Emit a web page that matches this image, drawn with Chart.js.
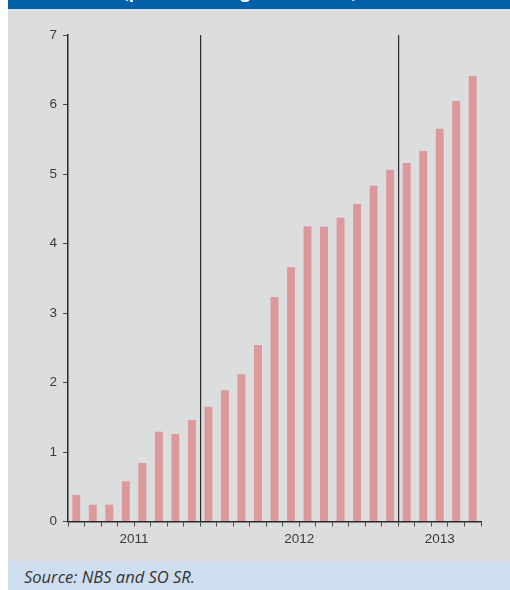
<!DOCTYPE html>
<html>
<head>
<meta charset="utf-8">
<script src="https://cdn.jsdelivr.net/npm/chart.js@4/dist/chart.umd.min.js"></script>
<style>
  html, body { margin: 0; padding: 0; background: #fff; width: 510px; height: 590px; overflow: hidden; }
  #head { position: absolute; left: 8px; top: 0; width: 502px; height: 9px; background: #0060a8; overflow: hidden; }
  #head span { position: absolute; left: 115px; top: -18px; color: #fff; font: bold 17px "Open Sans", sans-serif; line-height: 20px; white-space: nowrap; }
  #panel { position: absolute; left: 8px; top: 9px; width: 502px; height: 552px; background: #dcdddf; }
  #foot { position: absolute; left: 8px; top: 561px; width: 502px; height: 29px; background: #cfdeef; overflow: hidden; }
  #foot span { position: absolute; left: 16px; top: 6px; font: italic 16.5px "Open Sans", sans-serif; line-height: 20px; color: #333; white-space: nowrap; }
  canvas { display: block; }
</style>
</head>
<body>
<div id="head"><span>(percent change since 2011)</span></div>
<div id="panel"><canvas id="chart" width="502" height="552"></canvas></div>
<div id="foot"><span>Source: NBS and SO SR.</span></div>
<script>
// Monthly observations, May 2011 – May 2013
const months = [
  '2011-05','2011-06','2011-07','2011-08','2011-09','2011-10','2011-11','2011-12',
  '2012-01','2012-02','2012-03','2012-04','2012-05','2012-06','2012-07','2012-08',
  '2012-09','2012-10','2012-11','2012-12',
  '2013-01','2013-02','2013-03','2013-04','2013-05'
];
const values = [
  0.38, 0.24, 0.24, 0.58, 0.84, 1.29, 1.26, 1.46,
  1.65, 1.89, 2.12, 2.54, 3.23, 3.66, 4.25, 4.24,
  4.37, 4.57, 4.83, 5.06,
  5.16, 5.33, 5.65, 6.05, 6.41
];
const yTicks = [0, 1, 2, 3, 4, 5, 6, 7];

// Year captions sit in the middle of each year's months; a divider marks each new year
const years = [...new Set(months.map(m => m.slice(0, 4)))];
const yearMarks = [];
years.forEach((yr, k) => {
  const idx = months.map((m, i) => (m.startsWith(yr) ? i : -1)).filter(i => i >= 0);
  const first = idx[0], last = idx[idx.length - 1];
  if (k > 0) yearMarks.push({ value: first - 0.5, label: '', divider: true });
  yearMarks.push({ value: (first + last) / 2, label: yr, divider: false });
});

const tickFont = { family: '"Liberation Sans", Arial, sans-serif', size: 13.5 };
const textColor = '#3a3a3a';
const axisColor = '#2a2a2a';

new Chart(document.getElementById('chart'), {
  type: 'bar',
  data: {
    labels: months,
    datasets: [{
      data: values,
      backgroundColor: '#db999b',
      borderWidth: 0,
      barPercentage: 0.48,
      categoryPercentage: 1
    }]
  },
  options: {
    responsive: false,
    animation: false,
    events: [],
    layout: { padding: { left: 0, right: 29, top: 26, bottom: 0 } },
    plugins: { legend: { display: false }, tooltip: { enabled: false } },
    scales: {
      x: {
        type: 'category',
        position: 'bottom',
        weight: 0,
        offset: true,
        grid: { offset: true, drawOnChartArea: false, drawTicks: true, tickLength: 5, color: '#4a4a4a', lineWidth: 1 },
        border: { display: true, color: axisColor, width: 1.5 },
        ticks: { display: false },
        afterFit(s) { s.height = 5; }
      },
      // month-index axis carrying the year captions and the year dividers
      years: {
        type: 'linear',
        position: 'bottom',
        weight: 1,
        offset: false,
        bounds: 'data',
        min: -0.5,
        max: months.length - 0.5,
        afterBuildTicks(s) { s.ticks = yearMarks.map(t => ({ value: t.value })); },
        afterFit(s) { s.height = 34.5; },
        border: { display: false },
        grid: {
          offset: false,
          drawOnChartArea: true,
          drawTicks: false,
          color: ctx => (yearMarks[ctx.index] && yearMarks[ctx.index].divider ? axisColor : 'rgba(0,0,0,0)'),
          lineWidth: 1.2
        },
        ticks: {
          autoSkip: false,
          maxRotation: 0,
          padding: 5,
          font: tickFont,
          color: textColor,
          callback: (v, i) => yearMarks[i].label
        }
      },
      y: {
        position: 'left',
        min: 0,
        max: 7,
        afterBuildTicks(s) { s.ticks = yTicks.map(v => ({ value: v })); },
        afterFit(s) { s.width = 60; },
        grid: { drawOnChartArea: false, drawTicks: true, tickLength: 5, color: '#4a4a4a', lineWidth: 1 },
        border: { display: true, color: axisColor, width: 1.5 },
        ticks: { padding: 6, font: tickFont, color: textColor, callback: v => String(v) }
      }
    }
  }
});
</script>
</body>
</html>
